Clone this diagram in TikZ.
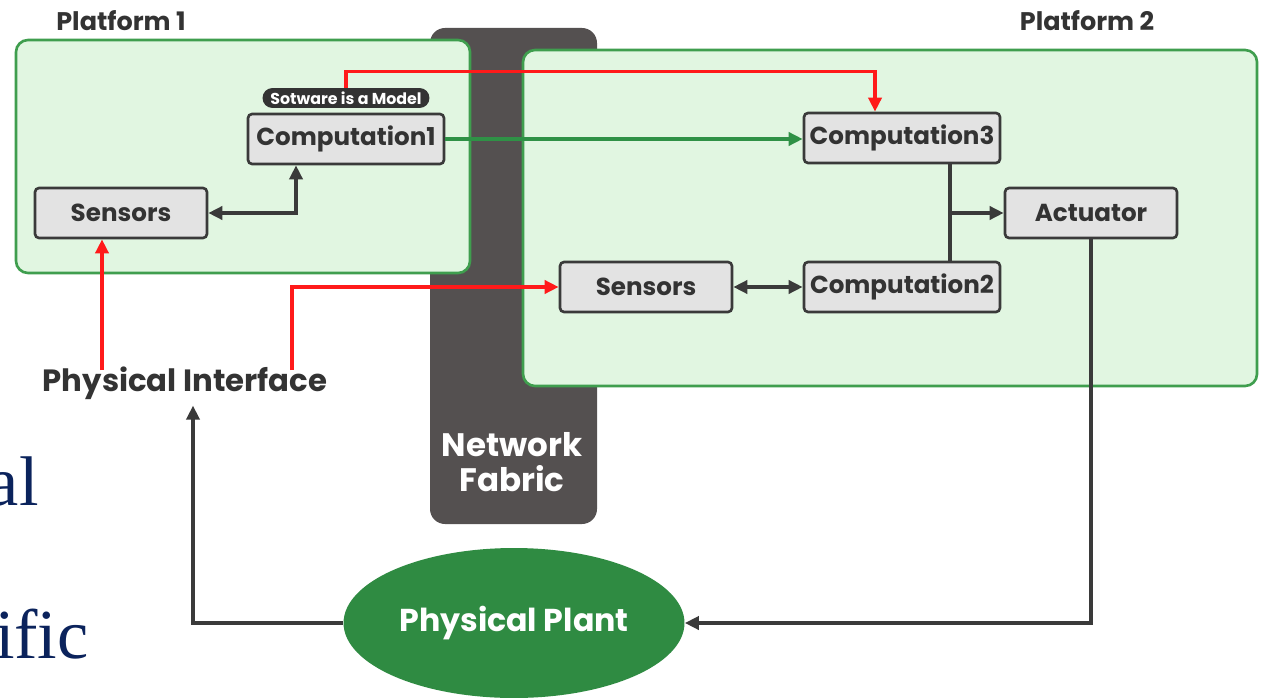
\documentclass[tikz,border=0pt]{standalone}
\usepackage{fontspec}
\setmainfont{Poppins}
\newfontfamily\slidefont{Liberation Serif}
\usetikzlibrary{shapes.geometric,arrows.meta}
\definecolor{PFGreen}{HTML}{3F9E4E}
\definecolor{PFFill}{HTML}{E1F6E1}
\definecolor{BoxFill}{HTML}{E3E3E3}
\definecolor{BoxLine}{HTML}{3A3A3A}
\definecolor{FabricGrey}{HTML}{545050}
\definecolor{LinkRed}{HTML}{FF1A1A}
\definecolor{LinkGreen}{HTML}{2F9146}
\definecolor{PlantGreen}{HTML}{2F8B42}
\definecolor{SlideNavy}{HTML}{0B235C}
\definecolor{TextGrey}{HTML}{333333}

\begin{document}
\begin{tikzpicture}[x=0.02cm,y=-0.02cm,
  platform/.style={draw=PFGreen,fill=PFFill,line width=1.5pt,rounded corners=0.24cm},
  unit/.style={draw=BoxLine,fill=BoxFill,line width=1.5pt,rounded corners=0.08cm,
    minimum height=1.0cm,inner sep=0pt,text=TextGrey,font=\bfseries\fontsize{14}{16}\selectfont},
  compunit/.style={unit,minimum width=3.92cm},
  ioUnit/.style={unit,minimum width=3.44cm},
  tag/.style={fill=TextGrey,rounded corners=0.2cm,minimum width=3.34cm,minimum height=0.4cm,
    inner sep=0pt,text=white,font=\bfseries\fontsize{9}{10}\selectfont},
  heading/.style={text=TextGrey,font=\bfseries\fontsize{14.5}{16}\selectfont},
  darklink/.style={draw=BoxLine,line width=2.1pt,-{Triangle[length=2.8mm,width=2.6mm]}},
  redlink/.style={draw=LinkRed,line width=2.1pt,-{Triangle[length=2.8mm,width=2.6mm]}},
  greenlink/.style={draw=LinkGreen,line width=2.1pt,-{Triangle[length=2.8mm,width=2.6mm]}}]
\path[use as bounding box,fill=white] (0,0) rectangle (1263,699);

% network fabric behind both platforms
\fill[FabricGrey,rounded corners=0.3cm] (430,28) rectangle (597,524);
\node[text=white,align=center,font=\bfseries\fontsize{18.5}{20}\selectfont] (fabric) at (512,462) {Network\\Fabric};

% platforms
\path[platform] (16,40) rectangle (470,273);
\path[platform] (523,50) rectangle (1257,386);
\node[heading] (plat1) at (121,21) {Platform 1};
\node[heading] (plat2) at (1087,21) {Platform 2};

% platform 1
\node[compunit] (comp1) at (346,139) {Computation1};
\node[tag] (model) at (346,98) {Sotware is a Model};
\node[ioUnit] (sens1) at (121,213) {Sensors};

% platform 2
\node[compunit] (comp3) at (902,138) {Computation3};
\node[compunit] (comp2) at (902,287) {Computation2};
\node[ioUnit] (sens2) at (646,287) {Sensors};
\node[ioUnit] (act) at (1091,213) {Actuator};

% plant side
\node[text=TextGrey,font=\bfseries\fontsize{17.5}{19}\selectfont] (pint) at (185,383) {Physical Interface};
\node[ellipse,fill=PlantGreen,minimum width=6.82cm,minimum height=3.0cm,text=white,
  font=\bfseries\fontsize{18}{20}\selectfont] (plant) at (514,623) {Physical Plant};

% slide text cut off at the left
\node[anchor=base east,text=SlideNavy,font=\slidefont\fontsize{40}{44}\selectfont,inner sep=0pt] (cutA) at (39,505) {al};
\node[anchor=base east,text=SlideNavy,font=\slidefont\fontsize{40}{44}\selectfont,inner sep=0pt] (cutB) at (89,658) {ific};

% connectors
\coordinate (in1) at (102,370);
\coordinate (in2) at (292,370);
\coordinate (tap) at (950,213);
\draw[darklink,{Triangle[length=2.8mm,width=2.6mm]}-{Triangle[length=2.8mm,width=2.6mm]}] (sens1.east) -| ([xshift=-1cm]comp1.south);
\draw[redlink] (in1) -- (in1 |- sens1.south);
\draw[redlink] (in2) |- (sens2.west);
\draw[redlink] (model.north) -- ++(0,-16) -| ([xshift=-0.54cm]comp3.north);
\draw[greenlink] (comp1.east) -- (comp3.west |- comp1.east);
\draw[darklink,{Triangle[length=2.8mm,width=2.6mm]}-{Triangle[length=2.8mm,width=2.6mm]}] (sens2.east) -- (comp2.west);
\draw[BoxLine,line width=2.1pt] ([xshift=0.96cm]comp3.south) -- ([xshift=0.96cm]comp2.north);
\draw[darklink] (tap) -- (act.west);
\draw[darklink] (act.south) |- (plant.east);
\draw[darklink] (plant.west) -| ([xshift=0.16cm]pint.south);
\end{tikzpicture}
\end{document}
